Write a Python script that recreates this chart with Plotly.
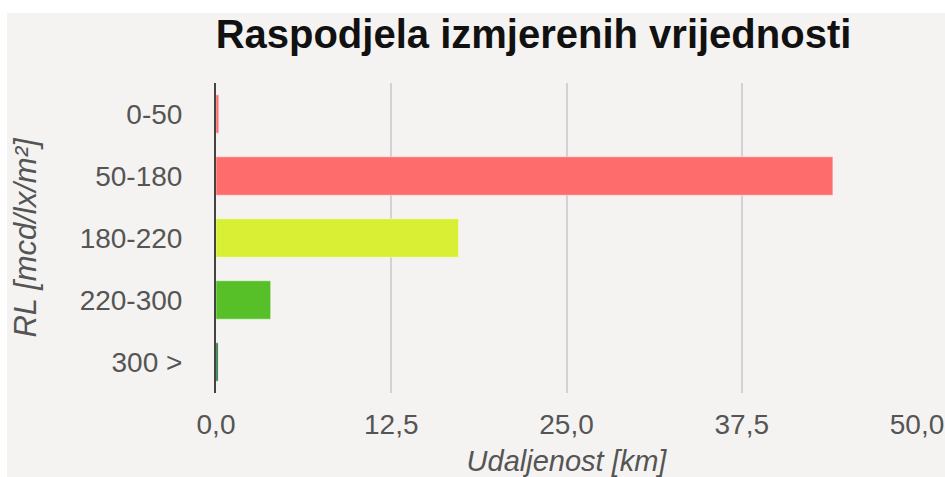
import plotly.graph_objects as go

categories = ["0-50", "50-180", "180-220", "220-300", "300 >"]
distances_km = [0.2, 44.0, 17.3, 3.9, 0.15]
bar_colors = ["#fe6c6c", "#fe6c6c", "#d8ef33", "#57bf27", "#1f6e33"]
x_ticks = [0, 12.5, 25, 37.5, 50]

title_text = "Raspodjela izmjerenih vrijednosti"
x_title = "Udaljenost [km]"
y_title = "RL [mcd/lx/m²]"

FONT = "Liberation Sans, Arial, sans-serif"
W, H = 945, 477
L, R, T, B = 216, 28, 83, 84
pw = W - L - R
ph = H - T - B
BG = "#f4f3f1"

fig = go.Figure()
fig.add_trace(go.Bar(
    y=categories,
    x=distances_km,
    orientation="h",
    width=0.62,
    marker=dict(color=bar_colors, line=dict(color="rgba(255,255,255,0.45)", width=1)),
    hoverinfo="x+y",
))

# white strips above and left of the gray panel
fig.add_shape(
    type="rect", xref="paper", yref="paper", layer="below",
    x0=-L / pw - 0.05, x1=(W - L) / pw + 0.05,
    y0=(ph + T - 13) / ph, y1=(ph + T) / ph + 0.05,
    fillcolor="white", line=dict(width=0),
)
fig.add_shape(
    type="rect", xref="paper", yref="paper", layer="below",
    x0=-L / pw - 0.05, x1=(7 - L) / pw,
    y0=-B / ph - 0.05, y1=(ph + T) / ph + 0.05,
    fillcolor="white", line=dict(width=0),
)

fig.update_layout(
    width=W, height=H,
    margin=dict(l=L, r=R, t=T, b=B, pad=0, autoexpand=False),
    paper_bgcolor=BG,
    plot_bgcolor="rgba(0,0,0,0)",
    separators=",.",
    showlegend=False,
    font=dict(family=FONT, size=28, color="#555555"),
    title=dict(
        text="<b>" + title_text + "</b>",
        font=dict(family=FONT, size=40, color="#111111"),
        x=533.5 / W, xanchor="center", xref="container",
        y=1 - 34 / H, yanchor="middle", yref="container",
    ),
    xaxis=dict(
        range=[0, 50],
        tickvals=x_ticks,
        tickformat=".1f",
        showgrid=True, gridcolor="#d2d2d2", gridwidth=1.5,
        zeroline=False, showline=False,
        ticks="", ticklabelstandoff=12,
        tickfont=dict(size=28, color="#555555"),
        title=dict(text="<i>" + x_title + "</i>", standoff=16,
                   font=dict(size=29, color="#555555")),
        automargin=False,
        fixedrange=True,
    ),
    yaxis=dict(
        categoryorder="array", categoryarray=categories,
        autorange="reversed",
        showgrid=False, zeroline=False,
        showline=True, linecolor="#444444", linewidth=2,
        ticks="", ticklabelstandoff=26,
        tickfont=dict(size=28, color="#555555"),
        title=dict(text="<i>" + y_title + "</i>", standoff=34,
                   font=dict(size=31, color="#555555")),
        automargin=False,
        fixedrange=True,
    ),
)

fig.write_html(
    "out.html",
    config={"displayModeBar": False},
    post_script="document.body.style.margin='0';document.body.style.overflow='hidden';",
)
